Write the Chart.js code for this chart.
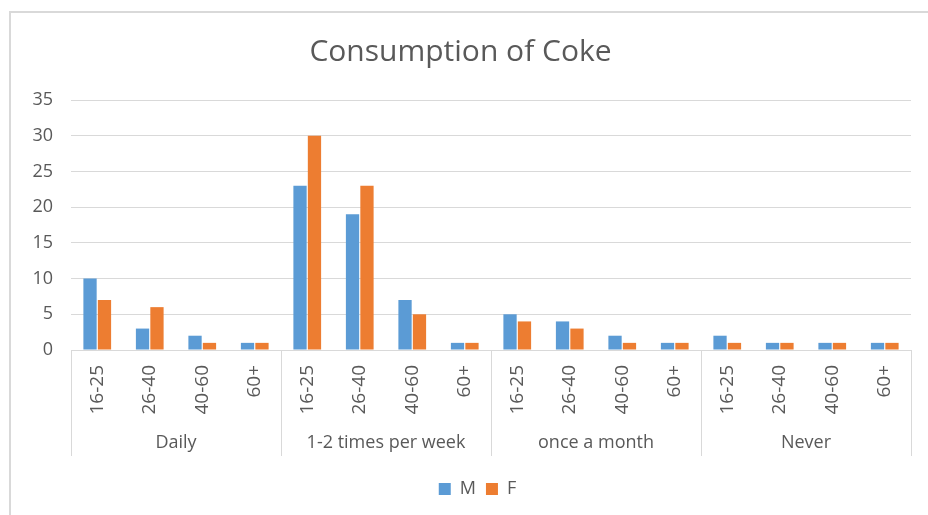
<!DOCTYPE html>
<html>
<head>
<meta charset="utf-8">
<script src="https://cdn.jsdelivr.net/npm/chart.js@4/dist/chart.umd.min.js"></script>
<style>
  html, body { margin: 0; padding: 0; background: #fff; }
  #wrap { width: 928px; height: 515px; position: relative; }
</style>
</head>
<body>
<div id="wrap"><canvas id="c" width="928" height="515"></canvas></div>
<script>
const groups = ['Daily', '1-2 times per week', 'once a month', 'Never'];
const ages = ['16-25', '26-40', '40-60', '60+'];
const maleValues = [10, 3, 2, 1, 23, 19, 7, 1, 5, 4, 2, 1, 2, 1, 1, 1];
const femaleValues = [7, 6, 1, 1, 30, 23, 5, 1, 4, 3, 1, 1, 1, 1, 1, 1];
const yTicks = [0, 5, 10, 15, 20, 25, 30, 35];

const labels = [];
groups.forEach(() => ages.forEach(a => labels.push(a)));

const FONT = "'Open Sans', 'DejaVu Sans', sans-serif";
const TEXT = '#595959';
const GRID = '#d9d9d9';

const decor = {
  id: 'decor',
  afterLayout(chart) {
    if (chart.legend) {
      chart.legend.left += 17;
      chart.legend.right += 17;
    }
  },
  beforeDraw(chart) {
    const ctx = chart.ctx;
    ctx.save();
    ctx.strokeStyle = GRID;
    ctx.lineWidth = 2;
    ctx.beginPath();
    ctx.moveTo(10, 516);
    ctx.lineTo(10, 12);
    ctx.lineTo(930, 12);
    ctx.stroke();
    ctx.restore();
  },
  afterDraw(chart) {
    const ctx = chart.ctx;
    const x = chart.scales.x;
    const area = chart.chartArea;
    const n = ages.length;
    const half = (x.getPixelForValue(1) - x.getPixelForValue(0)) / 2;
    ctx.save();
    ctx.strokeStyle = GRID;
    ctx.lineWidth = 1;
    for (let g = 0; g <= groups.length; g++) {
      const idx = Math.min(g * n, labels.length - 1);
      let px = g * n < labels.length ? x.getPixelForValue(idx) - half : x.getPixelForValue(idx) + half;
      px = Math.round(px) + 0.5;
      ctx.beginPath();
      ctx.moveTo(px, area.bottom);
      ctx.lineTo(px, area.bottom + 106);
      ctx.stroke();
    }
    ctx.fillStyle = TEXT;
    ctx.font = '18px ' + FONT;
    ctx.textAlign = 'center';
    ctx.textBaseline = 'middle';
    groups.forEach((gname, g) => {
      const a = x.getPixelForValue(g * n) - half;
      const b = x.getPixelForValue(g * n + n - 1) + half;
      ctx.fillText(gname, (a + b) / 2, area.bottom + 93);
    });
    ctx.restore();
  }
};

new Chart(document.getElementById('c'), {
  type: 'bar',
  data: {
    labels: labels,
    datasets: [
      { label: 'M', data: maleValues, backgroundColor: '#5B9BD5', categoryPercentage: 0.55, barPercentage: 0.92 },
      { label: 'F', data: femaleValues, backgroundColor: '#ED7D31', categoryPercentage: 0.55, barPercentage: 0.92 }
    ]
  },
  options: {
    responsive: false,
    animation: false,
    layout: { padding: { left: 10, right: 17, top: 0, bottom: 7 } },
    plugins: {
      title: {
        display: true,
        text: 'Consumption of Coke',
        color: TEXT,
        font: { family: FONT, size: 30, weight: 'normal' },
        padding: { top: 34, bottom: 30 }
      },
      legend: {
        position: 'bottom',
        labels: {
          color: TEXT,
          font: { family: FONT, size: 18 },
          boxWidth: 12,
          boxHeight: 12,
          padding: 10
        }
      },
      tooltip: { enabled: false }
    },
    scales: {
      x: {
        grid: { display: false, drawTicks: false },
        border: { display: false },
        ticks: {
          color: TEXT,
          font: { family: FONT, size: 19 },
          minRotation: 90,
          maxRotation: 90,
          padding: 15,
          autoSkip: false
        },
        afterFit(scale) { scale.height = 120; }
      },
      y: {
        min: 0,
        max: 35,
        afterBuildTicks(scale) { scale.ticks = yTicks.map(v => ({ value: v })); },
        grid: { color: GRID, lineWidth: 1, drawTicks: false },
        border: { display: false },
        ticks: {
          color: TEXT,
          font: { family: FONT, size: 18 },
          padding: 18
        },
        afterFit(scale) { scale.width = 61; }
      }
    }
  },
  plugins: [decor]
});
</script>
</body>
</html>
